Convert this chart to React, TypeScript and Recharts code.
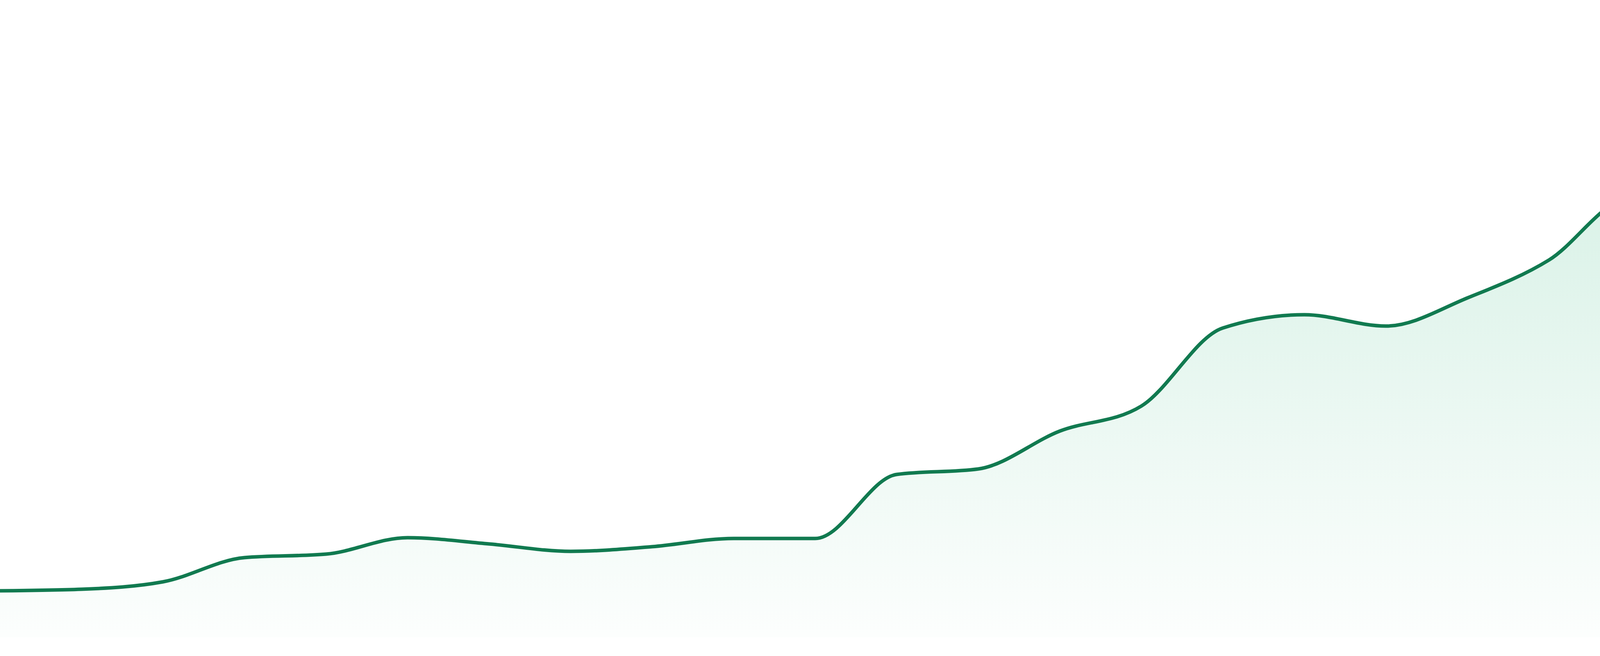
import { AreaChart, Area, XAxis, YAxis } from 'recharts';

// 24 evenly spaced samples, left to right
const labels = [
  'P01', 'P02', 'P03', 'P04', 'P05', 'P06', 'P07', 'P08',
  'P09', 'P10', 'P11', 'P12', 'P13', 'P14', 'P15', 'P16',
  'P17', 'P18', 'P19', 'P20', 'P21', 'P22', 'P23', 'P24',
];

const values = [
  11.9, 12.3, 14.2, 20.4, 21.3, 25.5, 23.9, 22.0,
  23.2, 25.3, 25.3, 41.7, 43.1, 52.8, 59.2, 79.2,
  82.6, 79.7, 86.9, 96.6, 112.6, 113.2, 113.9, 143.2,
];

const yDomain = [0, 160];

const LINE = '#117a50';
const FILL = '#16ad6b';

export default function App() {
  const data = labels.map((label, i) => ({ label, value: values[i] }));

  return (
    <div style={{ position: 'absolute', left: 0, top: 0, width: 4800, height: 1680, background: '#fff' }}>
      <AreaChart width={4800} height={1680} data={data} margin={{ top: 32, right: 0, bottom: 48, left: 0 }}>
        <defs>
          <linearGradient id="areaFill" x1="0" y1="0" x2="0" y2="1">
            <stop offset="0%" stopColor={FILL} stopOpacity={0.33} />
            <stop offset="100%" stopColor={FILL} stopOpacity={0.02} />
          </linearGradient>
        </defs>
        <XAxis dataKey="label" hide />
        <YAxis hide type="number" domain={yDomain} allowDataOverflow ticks={[0, 40, 80, 120, 160]} />
        <Area
          type="monotone"
          dataKey="value"
          stroke={LINE}
          strokeWidth={9}
          fill="url(#areaFill)"
          dot={false}
          activeDot={false}
          isAnimationActive={false}
        />
      </AreaChart>
    </div>
  );
}
